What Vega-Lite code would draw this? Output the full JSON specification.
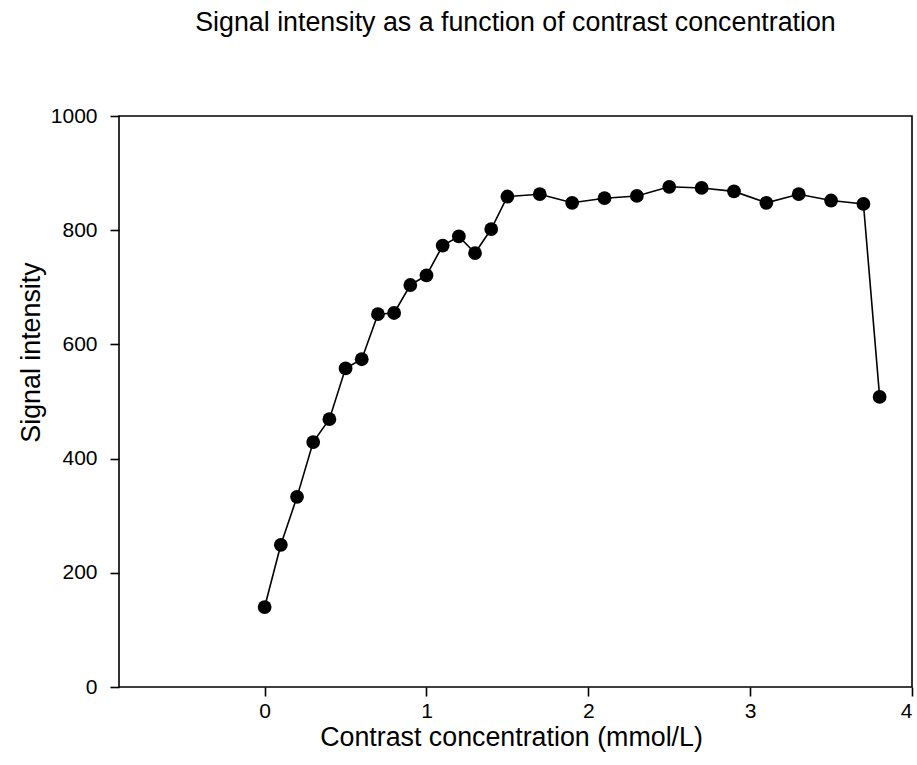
{
  "$schema": "https://vega.github.io/schema/vega-lite/v6.json",
  "autosize": "none",
  "padding": {"left": 119, "top": 116, "right": 5, "bottom": 78},
  "width": 793,
  "height": 571,
  "background": "white",
  "title": {
    "text": "Signal intensity as a function of contrast concentration",
    "font": "Liberation Sans",
    "fontSize": 26.8,
    "fontWeight": "normal",
    "color": "black",
    "anchor": "middle",
    "offset": 68
  },
  "config": {
    "view": {"stroke": "black", "strokeWidth": 1.6},
    "axis": {
      "grid": false,
      "domain": false,
      "tickColor": "black",
      "tickWidth": 1.6,
      "tickSize": 9,
      "labelFont": "Liberation Sans",
      "labelFontSize": 21,
      "labelColor": "black",
      "titleFont": "Liberation Sans",
      "titleFontSize": 26.8,
      "titleFontWeight": "normal",
      "titleColor": "black"
    }
  },
  "data": {
    "values": [
      {"c": 0.0, "s": 140},
      {"c": 0.1, "s": 249},
      {"c": 0.2, "s": 333},
      {"c": 0.3, "s": 429},
      {"c": 0.4, "s": 469},
      {"c": 0.5, "s": 558},
      {"c": 0.6, "s": 574},
      {"c": 0.7, "s": 653},
      {"c": 0.8, "s": 655},
      {"c": 0.9, "s": 704},
      {"c": 1.0, "s": 721},
      {"c": 1.1, "s": 773},
      {"c": 1.2, "s": 789},
      {"c": 1.3, "s": 760},
      {"c": 1.4, "s": 802},
      {"c": 1.5, "s": 859},
      {"c": 1.7, "s": 863},
      {"c": 1.9, "s": 848},
      {"c": 2.1, "s": 856},
      {"c": 2.3, "s": 860},
      {"c": 2.5, "s": 876},
      {"c": 2.7, "s": 874},
      {"c": 2.9, "s": 868},
      {"c": 3.1, "s": 848},
      {"c": 3.3, "s": 863},
      {"c": 3.5, "s": 852},
      {"c": 3.7, "s": 846},
      {"c": 3.8, "s": 508}
    ]
  },
  "encoding": {
    "x": {
      "field": "c",
      "type": "quantitative",
      "scale": {"domain": [-0.9, 4], "nice": false, "zero": false},
      "axis": {"values": [0, 1, 2, 3, 4], "format": "d", "title": "Contrast concentration (mmol/L)", "labelPadding": 4, "titlePadding": 3, "titleX": 392}
    },
    "y": {
      "field": "s",
      "type": "quantitative",
      "scale": {"domain": [0, 1000], "nice": false},
      "axis": {"values": [0, 200, 400, 600, 800, 1000], "format": "d", "title": "Signal intensity", "labelPadding": 13, "titlePadding": 5, "titleY": 236}
    }
  },
  "layer": [
    {"mark": {"type": "line", "color": "black", "strokeWidth": 1.6}},
    {"mark": {"type": "point", "filled": true, "color": "black", "opacity": 1, "size": 190}}
  ]
}
